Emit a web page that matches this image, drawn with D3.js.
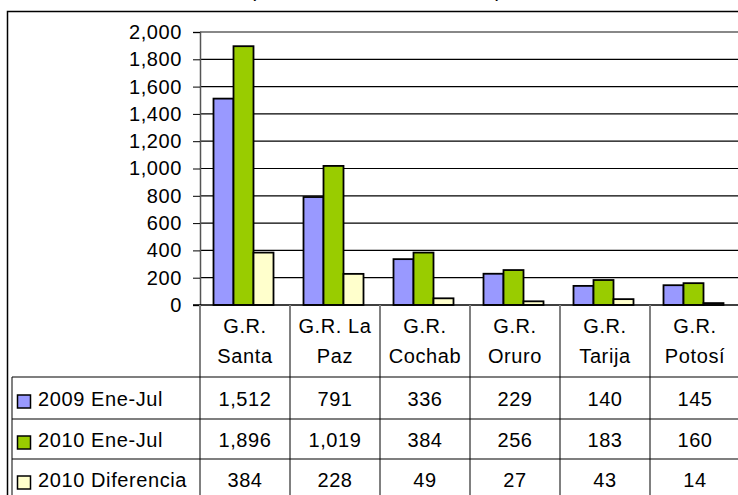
<!DOCTYPE html>
<html><head><meta charset="utf-8">
<script src="https://cdn.jsdelivr.net/npm/d3@7"></script>
<style>
html,body{margin:0;padding:0;background:#fff;overflow:hidden}
svg{display:block;font-family:Arial,"Liberation Sans",sans-serif}
svg text{letter-spacing:0.6px}
</style></head>
<body>
<svg id="c" width="738" height="495"></svg>
<script>
const categories = [["G.R.","Santa"],["G.R. La","Paz"],["G.R.","Cochab"],["G.R.","Oruro"],["G.R.","Tarija"],["G.R.","Potosí"]];
const seriesNames = ["2009 Ene-Jul","2010 Ene-Jul","2010 Diferencia"];
const colors = ["#9999FF","#99CC00","#FFFFCC"];
const v2009 = [1512,791,336,229,140,145];
const v2010 = [1896,1019,384,256,183,160];
const vDif = [384,228,49,27,43,14];
const yTicks = [0,200,400,600,800,1000,1200,1400,1600,1800,2000];
const subtitle = "(en millones de bolivianos)";

const series = [v2009, v2010, vDif];
const svg = d3.select("#c");
const fs = 20;

const x = d3.scaleBand().domain(d3.range(categories.length)).range([200, 740]).paddingInner(0).paddingOuter(0);
const xi = d3.scaleBand().domain(d3.range(series.length)).range([0, x.bandwidth()]).paddingInner(0).paddingOuter(0.75);
const y = d3.scaleLinear().domain([0, 2000]).range([305, 32]);

// subtitle (cut off at top, as in the source image)
svg.append("text").attr("x", 376).attr("y", -3).attr("text-anchor","middle")
  .attr("font-size", fs).attr("fill","#000").text(subtitle);

// outer chart border
svg.append("rect").attr("x",7.5).attr("y",11.5).attr("width",760).attr("height",520)
  .attr("fill","none").attr("stroke","#000").attr("stroke-width",1.5);

// gridlines
svg.append("g").selectAll("line").data(yTicks.filter(d=>d>0 && d<2000)).join("line")
  .attr("x1",200).attr("x2",740).attr("y1",d=>y(d)).attr("y2",d=>y(d))
  .attr("stroke","#000").attr("stroke-width",1.2);
// plot top border
svg.append("line").attr("x1",200).attr("x2",740).attr("y1",y(2000)).attr("y2",y(2000))
  .attr("stroke","#888").attr("stroke-width",2);

// y axis
const yAxis = d3.axisLeft(y).tickValues(yTicks).tickSize(7).tickPadding(11).tickFormat(d3.format(","));
const ga = svg.append("g").attr("transform","translate(200,0)").call(yAxis);
ga.select(".domain").attr("stroke","#555").attr("stroke-width",1.5);
ga.selectAll(".tick line").attr("stroke","#000");
ga.selectAll(".tick text").attr("font-size",fs).attr("font-family","Arial,'Liberation Sans',sans-serif").attr("fill","#000");

// bars
const gb = svg.append("g");
series.forEach((vals, si) => {
  gb.append("g").selectAll("rect").data(vals).join("rect")
    .attr("x",(d,i)=>x(i)+xi(si)-1.5)
    .attr("width",xi.bandwidth())
    .attr("y",d=>y(d))
    .attr("height",d=>y(0)-y(d))
    .attr("fill",colors[si]).attr("stroke","#000").attr("stroke-width",1.8);
});

// baseline
svg.append("line").attr("x1",193).attr("x2",740).attr("y1",305).attr("y2",305).attr("stroke","#000").attr("stroke-width",1.5);

// data table
const rowY = [377, 419, 459, 499];
const gt = svg.append("g");
gt.selectAll("line.v").data(d3.range(categories.length+1)).join("line")
  .attr("x1",i=>i<categories.length?x(i):740).attr("x2",i=>i<categories.length?x(i):740)
  .attr("y1",305).attr("y2",500).attr("stroke","#808080").attr("stroke-width",2);
gt.append("line").attr("x1",12).attr("x2",12).attr("y1",377).attr("y2",500).attr("stroke","#808080").attr("stroke-width",2);
gt.selectAll("line.h").data(rowY.slice(0,3)).join("line")
  .attr("x1",12).attr("x2",740).attr("y1",d=>d).attr("y2",d=>d).attr("stroke","#000").attr("stroke-width",1.2);

// header
categories.forEach((c,i)=>{
  const t = gt.append("text").attr("text-anchor","middle").attr("font-size",fs).attr("fill","#000");
  t.append("tspan").attr("x",x(i)+x.bandwidth()/2).attr("y",333).text(c[0]);
  t.append("tspan").attr("x",x(i)+x.bandwidth()/2).attr("y",363).text(c[1]);
});

// rows
series.forEach((vals, si)=>{
  const cy = (rowY[si]+rowY[si+1])/2;
  gt.append("rect").attr("x",17.5).attr("y",cy-3).attr("width",13).attr("height",13)
    .attr("fill",colors[si]).attr("stroke","#000").attr("stroke-width",1.5);
  gt.append("text").attr("x",38).attr("y",cy+8).attr("font-size",fs).attr("fill","#000").text(seriesNames[si]);
  gt.append("g").selectAll("text").data(vals).join("text")
    .attr("x",(d,i)=>x(i)+x.bandwidth()/2).attr("y",cy+8).attr("text-anchor","middle")
    .attr("font-size",fs).attr("fill","#000").text(d=>d3.format(",")(d));
});
</script>
</body></html>
